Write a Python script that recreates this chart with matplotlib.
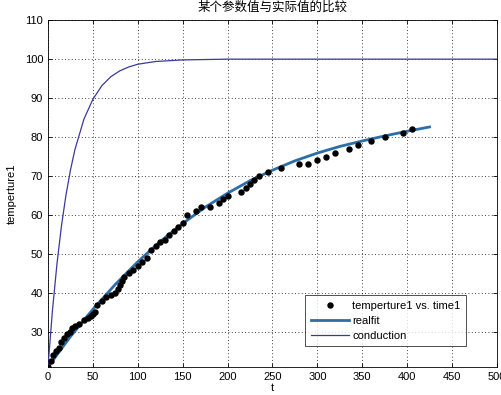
import matplotlib
matplotlib.use("Agg")
import matplotlib.pyplot as plt

plt.rcParams["font.family"] = ["Liberation Sans", "Noto Sans CJK SC", "DejaVu Sans"]

# measured points (time, temperature)
time1 = [0, 3, 6, 9, 12, 15, 18, 21, 24, 27, 30, 35, 40, 45, 48, 50, 52, 55,
         60, 65, 70, 75, 78, 80, 82, 85, 90, 95, 100, 105, 110, 115, 120, 125,
         130, 135, 140, 145, 150, 155, 165, 170, 180, 190, 195, 200, 215, 220,
         225, 230, 235, 245, 260, 280, 290, 300, 310, 320, 335, 345, 360, 375,
         395, 405]
temperture1 = [21, 22.5, 24, 25, 26, 27.5, 28.5, 29.5, 30, 31, 31.5, 32, 33,
               33.5, 34, 34.5, 35, 37, 38, 39, 39.5, 40, 41, 42, 43, 44, 45, 46,
               47, 48, 49, 51, 52, 53, 53.5, 55, 56, 57, 58, 60, 61, 62, 62, 63,
               64, 65, 66, 67, 68, 69, 70, 71, 72, 73, 73, 74, 75, 76, 77, 78,
               79, 80, 81, 82]

# fitted curve
fit_t = [0, 25, 50, 75, 100, 125, 150, 175, 200, 225, 250, 275, 300, 325,
         350, 375, 400, 425]
fit_y = [21, 28.8, 35.8, 42.2, 48.0, 53.2, 57.8, 62.0, 65.6, 68.8, 71.5, 73.9,
         75.9, 77.6, 79.0, 80.3, 81.5, 82.6]

# conduction model curve
cond_t = [0, 5, 10, 15, 20, 25, 30, 40, 50, 60, 70, 80, 90, 100, 120, 150,
          200, 500]
cond_y = [21, 35.6, 47.5, 57.2, 65.1, 71.5, 76.8, 84.6, 89.7, 93.2, 95.5,
          97.0, 98.0, 98.7, 99.4, 99.8, 100, 100]

fig = plt.figure(figsize=(5.01, 3.95), dpi=100)
ax = fig.add_axes([0.0958, 0.0709, 0.896, 0.878])

ax.plot(time1, temperture1, "o", color="black", markersize=3.6,
        label="temperture1 vs. time1", zorder=4)
ax.plot(fit_t, fit_y, "-", color="#2b6ea8", linewidth=2.0, label="realfit",
        zorder=3)
ax.plot(cond_t, cond_y, "-", color="#3a3a9c", linewidth=0.9,
        label="conduction", zorder=3)

ax.set_xlim(0, 500)
ax.set_ylim(21, 110)
ax.set_xticks(range(0, 501, 50))
ax.set_yticks(range(30, 111, 10))
ax.tick_params(direction="in", length=3, width=0.6, labelsize=8,
               top=True, right=True, colors="black")
ax.grid(True, linestyle=(0, (1, 3)), color="black", linewidth=0.6)
for s in ax.spines.values():
    s.set_linewidth(0.6)

ax.set_xlabel("t", fontsize=8, labelpad=1)
ax.set_ylabel("temperture1", fontsize=8, labelpad=6)
ax.set_title("某个参数值与实际值的比较", fontsize=9, pad=7,
             family=["Noto Sans CJK SC", "DejaVu Sans"])

leg = ax.legend(loc="lower right", bbox_to_anchor=(0.931, 0.06), fontsize=8,
                frameon=True, fancybox=False, edgecolor="black",
                borderaxespad=0, handlelength=3.4, handletextpad=0.3,
                labelspacing=0.45, borderpad=0.5)
leg.get_frame().set_linewidth(0.6)

fig.savefig("out.png", dpi=100)
